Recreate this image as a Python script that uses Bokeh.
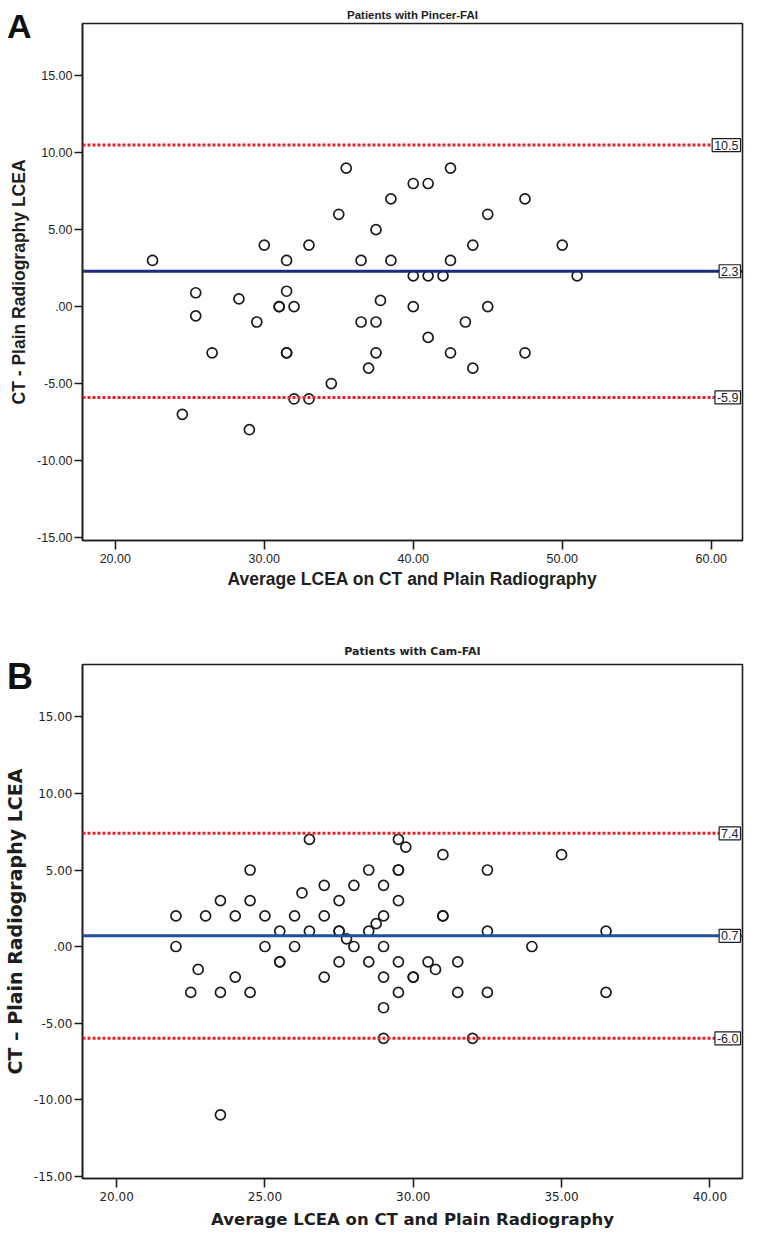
from bokeh.plotting import figure
from bokeh.layouts import column
from bokeh.models import Label, Span, FixedTicker, Range1d, Div
from bokeh.embed import file_html
from bokeh.resources import INLINE

# ---------------- Panel A: Pincer-FAI ----------------
pincer_avg = [22.5, 25.4, 25.4, 26.5, 24.5, 28.3, 29.5, 29.0, 30.0, 31.0,
              31.0, 32.0, 31.5, 31.5, 31.5, 31.5, 32.0, 33.0, 33.0, 34.5,
              35.0, 35.5, 36.5, 36.5, 37.5, 37.5, 37.5, 37.0, 37.8, 38.5,
              38.5, 40.0, 40.0, 40.0, 41.0, 41.0, 41.0, 42.0, 42.5, 42.5,
              42.5, 43.5, 44.0, 44.0, 45.0, 45.0, 47.5, 47.5, 50.0, 51.0]
pincer_diff = [3.0, 0.9, -0.6, -3.0, -7.0, 0.5, -1.0, -8.0, 4.0, 0.0,
               0.0, 0.0, 3.0, 1.0, -3.0, -3.0, -6.0, -6.0, 4.0, -5.0,
               6.0, 9.0, 3.0, -1.0, 5.0, -1.0, -3.0, -4.0, 0.4, 7.0,
               3.0, 8.0, 2.0, 0.0, 8.0, 2.0, -2.0, 2.0, 9.0, 3.0,
               -3.0, -1.0, 4.0, -4.0, 6.0, 0.0, 7.0, -3.0, 4.0, 2.0]
pincer_limits = [10.5, 2.3, -5.9]   # upper LoA, mean difference, lower LoA
pincer_x_ticks = [20, 30, 40, 50, 60]
pincer_x_tick_labels = ["20.00", "30.00", "40.00", "50.00", "60.00"]

# ---------------- Panel B: Cam-FAI ----------------
cam_avg = [26.5, 29.5, 29.75, 31.0, 35.0, 24.5, 28.5, 29.5, 29.5, 32.5,
           27.0, 28.0, 29.0, 23.5, 24.5, 26.25, 27.5, 29.5, 22.0, 23.0,
           24.0, 25.0, 26.0, 27.0, 29.0, 31.0, 31.0, 28.75, 25.5, 26.5,
           27.5, 27.5, 28.5, 32.5, 36.5, 27.75, 22.0, 25.0, 26.0, 28.0,
           29.0, 34.0, 25.5, 25.5, 27.5, 28.5, 29.5, 30.5, 31.5, 22.75,
           30.75, 24.0, 27.0, 29.0, 30.0, 30.0, 22.5, 23.5, 24.5, 29.5,
           31.5, 32.5, 36.5, 29.0, 29.0, 32.0, 23.5]
cam_diff = [7.0, 7.0, 6.5, 6.0, 6.0, 5.0, 5.0, 5.0, 5.0, 5.0,
            4.0, 4.0, 4.0, 3.0, 3.0, 3.5, 3.0, 3.0, 2.0, 2.0,
            2.0, 2.0, 2.0, 2.0, 2.0, 2.0, 2.0, 1.5, 1.0, 1.0,
            1.0, 1.0, 1.0, 1.0, 1.0, 0.5, 0.0, 0.0, 0.0, 0.0,
            0.0, 0.0, -1.0, -1.0, -1.0, -1.0, -1.0, -1.0, -1.0, -1.5,
            -1.5, -2.0, -2.0, -2.0, -2.0, -2.0, -3.0, -3.0, -3.0, -3.0,
            -3.0, -3.0, -3.0, -4.0, -6.0, -6.0, -11.0]
cam_limits = [7.4, 0.7, -6.0]
cam_x_ticks = [20, 25, 30, 35, 40]
cam_x_tick_labels = ["20.00", "25.00", "30.00", "35.00", "40.00"]

y_ticks = [-15, -10, -5, 0, 5, 10, 15]
y_tick_labels = ["-15.00", "-10.00", "-5.00", ".00", "5.00", "10.00", "15.00"]

x_title = "Average LCEA on CT and Plain Radiography"


def make_panel(title, avg, diff, limits, xr, yr, xticks, xlabels, height,
               borders, ytitle, font, mean_color, tick_size, xt_size, yt_size,
               xstand, ystand, title_size, title_valign, title_standoff):
    p = figure(width=744, height=height, x_range=Range1d(*xr), y_range=Range1d(*yr),
               output_backend="svg", toolbar_location=None,
               min_border_left=borders[0], min_border_right=borders[1],
               min_border_top=borders[2], min_border_bottom=borders[3],
               background_fill_color="white", border_fill_color="white")
    p.xgrid.visible = False
    p.ygrid.visible = False
    p.outline_line_color = "#1e1e1e"
    p.outline_line_width = 1.6

    p.title.text = title
    p.title.align = "center"
    p.title.vertical_align = title_valign
    p.title.text_font = font
    p.title.text_font_style = "bold"
    p.title.text_font_size = title_size
    p.title.text_color = "#1e1e1e"
    p.title.standoff = title_standoff

    for ax in (p.xaxis[0], p.yaxis[0]):
        ax.axis_line_color = "#1e1e1e"
        ax.axis_line_width = 1.6
        ax.major_tick_line_color = "#1e1e1e"
        ax.major_tick_line_width = 1.6
        ax.major_tick_in = 0
        ax.minor_tick_in = 0
        ax.minor_tick_out = 0
        ax.major_label_text_font = font
        ax.major_label_text_font_size = tick_size
        ax.major_label_text_color = "#1e1e1e"
        ax.axis_label_text_font = font
        ax.axis_label_text_font_style = "bold"
        ax.axis_label_text_color = "#1e1e1e"

    p.xaxis[0].ticker = FixedTicker(ticks=xticks)
    p.xaxis[0].major_label_overrides = dict(zip(xticks, xlabels))
    p.xaxis[0].major_tick_out = 9
    p.xaxis[0].major_label_standoff = 4
    p.xaxis[0].axis_label = x_title
    p.xaxis[0].axis_label_text_font_size = xt_size
    p.xaxis[0].axis_label_standoff = xstand

    p.yaxis[0].ticker = FixedTicker(ticks=y_ticks)
    p.yaxis[0].major_label_overrides = dict(zip(y_ticks, y_tick_labels))
    p.yaxis[0].major_tick_out = 8
    p.yaxis[0].major_label_standoff = 2
    p.yaxis[0].axis_label = ytitle
    p.yaxis[0].axis_label_text_font_size = yt_size
    p.yaxis[0].axis_label_standoff = ystand

    upper, mean, lower = limits
    for loc, col, dash in ((upper, "#e3222a", "3 2"), (lower, "#e3222a", "3 2"),
                           (mean, mean_color, "solid")):
        p.add_layout(Span(location=loc, dimension="width", line_color=col,
                          line_width=3, line_dash=dash))

    p.scatter(avg, diff, marker="circle", size=10, fill_color=None,
              line_color="#1a1a1a", line_width=1.7)

    for v in limits:
        p.add_layout(Label(x=xr[1], y=v, text=f"{v:.1f}", text_align="right",
                           text_baseline="middle", text_font="Liberation Sans",
                           text_font_size="12.5px", text_color="#1e1e1e",
                           x_offset=-2, border_line_color="#1e1e1e",
                           border_line_width=1.2, background_fill_color="white",
                           padding=2))
    return p


pA = make_panel("Patients with Pincer-FAI", pincer_avg, pincer_diff,
                pincer_limits, (17.8, 62.1), (-15.2, 18.4), pincer_x_ticks,
                pincer_x_tick_labels, 620, (73, 0, 23, 80),
                "CT - Plain Radiography LCEA", "Liberation Sans", "#1d2a80",
                "12.5px", "17.5px", "17.5px", 3, 5, "11.5px", "top", 2)
pB = make_panel("Patients with Cam-FAI", cam_avg, cam_diff, cam_limits,
                (18.85, 41.1), (-15.16, 18.43), cam_x_ticks, cam_x_tick_labels,
                612, (82, 2, 44, 54), "CT \u2013 Plain Radiography LCEA",
                "DejaVu Sans", "#1f4f9e", "12px", "16.5px", "19px", 6, 5,
                "11px", "bottom", 14)

letter_style = "font-family:Liberation Sans;font-weight:bold;line-height:1;color:#111;position:relative;"
divA = Div(text=f'<div style="{letter_style}font-size:34px;top:4px;left:2px;">A</div>',
           width=40, height=60,
           styles={"margin-bottom": "-65px", "z-index": "10"})
divB = Div(text=f'<div style="{letter_style}font-size:36px;top:34px;left:2px;">B</div>',
           width=40, height=80,
           styles={"margin-bottom": "-85px", "z-index": "10"})

layout = column(divA, pA, divB, pB)
open("out.html", "w").write(file_html(layout, INLINE))
